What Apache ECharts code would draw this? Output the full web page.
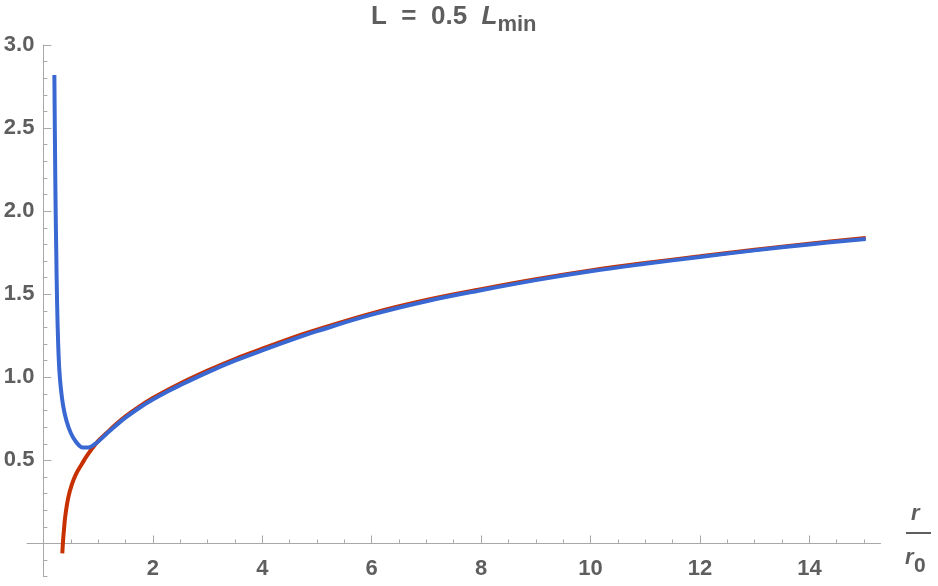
<!DOCTYPE html>
<html>
<head>
<meta charset="utf-8">
<script src="https://cdn.jsdelivr.net/npm/echarts@6/dist/echarts.min.js"></script>
<style>
  html, body { margin: 0; padding: 0; background: #fff; }
  #chart { width: 938px; height: 586px; }
</style>
</head>
<body>
<div id="chart"></div>
<script>
// r / r0 and the two curves
var redR  = [0.345, 0.36, 0.38, 0.40, 0.45, 0.52, 0.6, 0.7, 0.8, 0.95, 1.05, 1.16, 1.3, 1.5, 1.77, 2.0, 2.25, 2.5, 3.0, 3.5, 4.0, 4.7, 5.0, 6.0, 7.0, 8.0, 9.0, 10, 11, 12, 13, 14, 15.03];
var redV  = [-0.06, 0.02, 0.10, 0.165, 0.27, 0.355, 0.42, 0.477, 0.53, 0.597, 0.633, 0.667, 0.71, 0.765, 0.828, 0.875, 0.921, 0.963, 1.04, 1.11, 1.172, 1.255, 1.287, 1.385, 1.465, 1.53, 1.59, 1.643, 1.688, 1.728, 1.768, 1.804, 1.838];
var blueR = [0.2, 0.21, 0.22, 0.235, 0.25, 0.27, 0.29, 0.32, 0.36, 0.42, 0.5, 0.6, 0.72, 0.82, 0.95, 1.05, 1.16, 1.3, 1.5, 1.77, 2.0, 2.25, 2.5, 3.0, 3.5, 4.0, 4.7, 5.0, 6.0, 7.0, 8.0, 9.0, 10, 11, 12, 13, 14, 15.03];
var blueV = [2.82, 2.45, 2.1, 1.75, 1.45, 1.2, 1.05, 0.93, 0.83, 0.74, 0.665, 0.61, 0.578, 0.578, 0.6, 0.628, 0.662, 0.703, 0.757, 0.82, 0.866, 0.911, 0.953, 1.03, 1.1, 1.162, 1.245, 1.278, 1.377, 1.458, 1.524, 1.585, 1.638, 1.683, 1.724, 1.764, 1.8, 1.832];

// tick labels
var xMajor = [2, 4, 6, 8, 10, 12, 14];
var yMajor = [0.5, 1.0, 1.5, 2.0, 2.5, 3.0];

// minor ticks every 0.5 on x, every 0.1 on y
var xMinor = [];
for (var i = 1; i <= 30; i++) xMinor.push(i * 0.5);
var yMinor = [];
for (var j = -2; j <= 30; j++) if (j !== 0) yMinor.push(j / 10);

var axisGray = '#a8a8a8';
var textGray = '#5e5e5e';
var font = 'Liberation Sans';

// axes cross at the origin: shift them in from the grid edges
var xOff = -33.2;
var yOff = -16.4;

function pairs(xs, ys) {
  var out = [];
  for (var k = 0; k < xs.length; k++) out.push([xs[k], ys[k]]);
  return out;
}

var chart = echarts.init(document.getElementById('chart'));
chart.setOption({
  animation: false,
  title: {
    text: '{a|L  =  0.5  }{i|L}{s|min}',
    left: 371,
    top: 4,
    padding: 0,
    textStyle: {
      rich: {
        a: { fontSize: 26, fontWeight: 'bold', color: textGray, fontFamily: font, verticalAlign: 'bottom', padding: [0, 0, 6, 0] },
        i: { fontSize: 26, fontWeight: 'bold', fontStyle: 'italic', color: textGray, fontFamily: font, verticalAlign: 'bottom', padding: [0, 0, 6, 0] },
        s: { fontSize: 22, fontWeight: 'bold', color: textGray, fontFamily: font, verticalAlign: 'bottom' }
      }
    }
  },
  grid: { left: 27, right: 57.5, top: 45, bottom: 9.3, outerBoundsMode: 'none', containLabel: false },
  xAxis: [{
    type: 'value', min: -0.3, max: 15.3, position: 'bottom', offset: xOff,
    axisLine: { onZero: false, lineStyle: { color: axisGray, width: 1 } },
    axisTick: { inside: true, length: 8, customValues: xMajor, lineStyle: { color: axisGray } },
    axisLabel: { customValues: xMajor, margin: 14, fontSize: 22, fontWeight: 'bold', color: textGray, fontFamily: font },
    splitLine: { show: false }
  }, {
    type: 'value', min: -0.3, max: 15.3, position: 'bottom', offset: xOff,
    axisLine: { show: false, onZero: false },
    axisTick: { inside: true, length: 4, customValues: xMinor, lineStyle: { color: axisGray } },
    axisLabel: { show: false },
    splitLine: { show: false }
  }],
  yAxis: [{
    type: 'value', min: -0.2, max: 3.0, position: 'left', offset: yOff,
    axisLine: { show: true, onZero: false, lineStyle: { color: axisGray, width: 1 } },
    axisTick: { show: true, inside: true, length: 8, customValues: yMajor, lineStyle: { color: axisGray } },
    axisLabel: {
      customValues: yMajor, margin: 9, fontSize: 22, fontWeight: 'bold', color: textGray, fontFamily: font,
      formatter: function (v) { return v.toFixed(1); }
    },
    splitLine: { show: false }
  }, {
    type: 'value', min: -0.2, max: 3.0, position: 'left', offset: yOff,
    axisLine: { show: false, onZero: false },
    axisTick: { show: true, inside: true, length: 4, customValues: yMinor, lineStyle: { color: axisGray } },
    axisLabel: { show: false },
    splitLine: { show: false }
  }],
  graphic: [
    { type: 'text', left: 911, top: 503, style: { text: 'r', fontSize: 22, fontWeight: 'bold', fontStyle: 'italic', fill: textGray, fontFamily: font } },
    { type: 'rect', shape: { x: 906, y: 532, width: 25, height: 2 }, style: { fill: textGray } },
    { type: 'text', left: 905, top: 547, style: { text: 'r', fontSize: 22, fontWeight: 'bold', fontStyle: 'italic', fill: textGray, fontFamily: font } },
    { type: 'text', left: 914, top: 556, style: { text: '0', fontSize: 21, fontWeight: 'bold', fill: textGray, fontFamily: font } }
  ],
  series: [{
    type: 'line', data: pairs(redR, redV), xAxisIndex: 0, yAxisIndex: 0,
    showSymbol: false, smooth: 0.4,
    lineStyle: { color: '#c73000', width: 4 }
  }, {
    type: 'line', data: pairs(blueR, blueV), xAxisIndex: 0, yAxisIndex: 0,
    showSymbol: false, smooth: 0.4,
    lineStyle: { color: '#3a68d2', width: 4 }
  }]
});
</script>
</body>
</html>
